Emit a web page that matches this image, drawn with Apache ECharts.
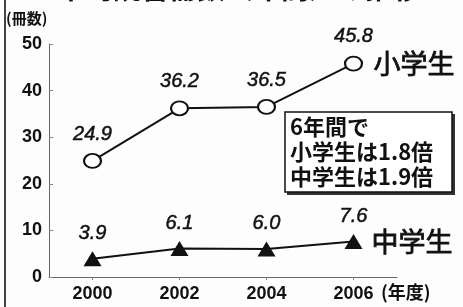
<!DOCTYPE html>
<html><head><meta charset="utf-8">
<script src="https://cdn.jsdelivr.net/npm/echarts@6/dist/echarts.min.js"></script>
<style>html,body{margin:0;padding:0;background:#fdfdfd}#c{width:463px;height:307px}</style>
</head><body><div id="c"></div>
<script>
const years = ['2000', '2002', '2004', '2006'];
const elementary = [24.9, 36.2, 36.5, 45.8];
const juniorHigh = [3.9, 6.1, 6.0, 7.6];
const yTicks = [0, 10, 20, 30, 40, 50];
const elemName = '小学生';
const juniorName = '中学生';
const noteLines = ['6年間で', '小学生は1.8倍', '中学生は1.9倍'];
const titleText = '平均読書冊数（年間）の推移';

const jp = '"Noto Sans CJK JP", sans-serif';
const num = '"Liberation Sans", Arial, sans-serif';
const chart = echarts.init(document.getElementById('c'));
const labelStyle = {
  show: true, position: 'top', fontFamily: num, fontStyle: 'italic',
  fontSize: 20, color: '#111', textBorderColor: '#111', textBorderWidth: 0.5,
  formatter: p => p.value.toFixed(1)
};
const endStyle = {show: true, fontFamily: jp, fontSize: 27, color: '#111', textBorderColor: '#111', textBorderWidth: 0.8};
chart.setOption({
  backgroundColor: '#fdfdfd',
  animation: false,
  title: {
    text: titleText, left: 52, top: -31,
    textStyle: {fontFamily: jp, fontWeight: 'bold', fontSize: 28, color: '#111'}
  },
  grid: {left: 49, right: 66, top: 44, bottom: 30},
  xAxis: {
    type: 'category', data: years, boundaryGap: true,
    axisLine: {lineStyle: {color: '#666', width: 1}},
    axisTick: {show: true, alignWithLabel: true, length: 3, lineStyle: {color: '#888'}},
    axisLabel: {fontFamily: num, fontWeight: 'bold', fontSize: 18, color: '#111', margin: 8}
  },
  yAxis: {
    type: 'value', min: yTicks[0], max: yTicks[yTicks.length - 1], interval: 10,
    splitLine: {show: false},
    axisLine: {show: true, lineStyle: {color: '#666', width: 1}},
    axisTick: {show: true, inside: true, length: 4, lineStyle: {color: '#888'}},
    axisLabel: {fontFamily: num, fontWeight: 'bold', fontSize: 18, color: '#111', margin: 7}
  },
  series: [
    {
      name: elemName, type: 'line', data: elementary,
      symbol: 'circle', symbolSize: [17, 14],
      lineStyle: {color: '#111', width: 2},
      itemStyle: {color: '#fff', borderColor: '#111', borderWidth: 2},
      label: Object.assign({}, labelStyle, {distance: 9}),
      endLabel: Object.assign({}, endStyle, {formatter: elemName, distance: 20})
    },
    {
      name: juniorName, type: 'line', data: juniorHigh,
      symbol: 'triangle', symbolSize: [18, 15],
      lineStyle: {color: '#111', width: 2},
      itemStyle: {color: '#111'},
      label: Object.assign({}, labelStyle, {distance: 8}),
      endLabel: Object.assign({}, endStyle, {formatter: juniorName, distance: 18})
    }
  ],
  graphic: [
    {type: 'line', shape: {x1: 5, y1: 0, x2: 5, y2: 307}, style: {stroke: '#444', lineWidth: 2}},
    {type: 'text', left: 6, top: 11, style: {text: '(冊数)', fontFamily: jp, fontWeight: 'bold', fontSize: 15, fill: '#111'}},
    {type: 'text', left: 381, top: 283, style: {text: '(年度)', fontFamily: jp, fontWeight: 'bold', fontSize: 18, fill: '#111'}},
    {type: 'rect', shape: {x: 287, y: 114, width: 168, height: 81}, style: {fill: '#333'}},
    {type: 'rect', shape: {x: 285, y: 112, width: 167, height: 80}, style: {fill: '#fff', stroke: '#111', lineWidth: 1.5}},
    {type: 'text', left: 290, top: 114, style: {text: noteLines.join('\n'), fontFamily: jp, fontWeight: 'bold', fontSize: 22, lineHeight: 25, fill: '#111'}}
  ]
});
</script></body></html>
